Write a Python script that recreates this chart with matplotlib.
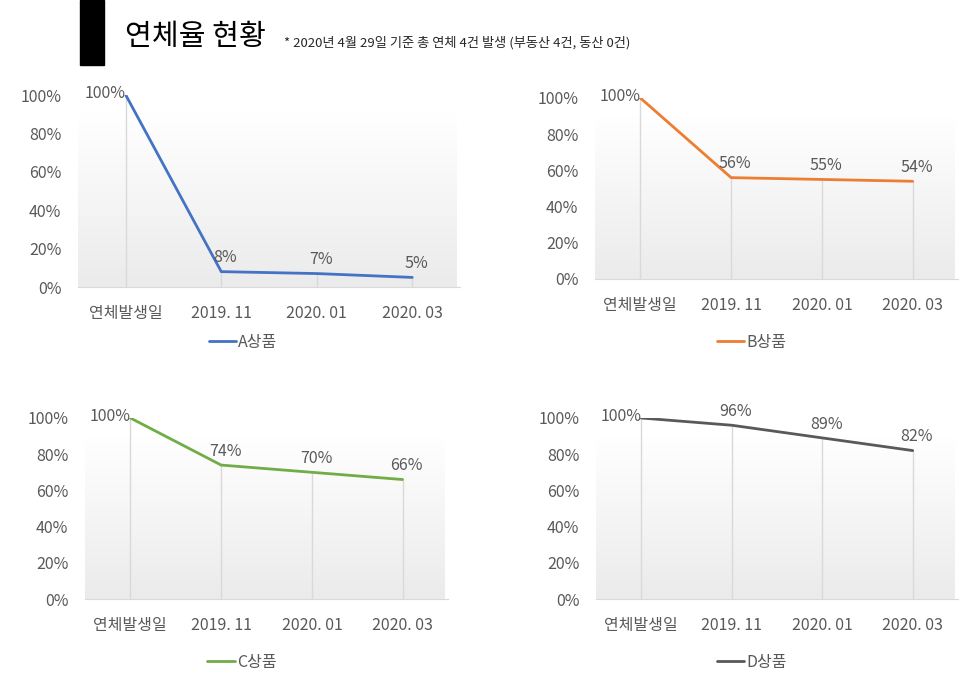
import numpy as np
import matplotlib
matplotlib.use('Agg')
import matplotlib.pyplot as plt
from matplotlib.colors import LinearSegmentedColormap
from matplotlib.patches import Rectangle

plt.rcParams['font.family'] = ['Noto Sans CJK KR', 'DejaVu Sans']

# --- 데이터 ---
categories = ['연체발생일', '2019. 11', '2020. 01', '2020. 03']
series_names = ['A상품', 'B상품', 'C상품', 'D상품']
a_values = [1.00, 0.08, 0.07, 0.05]
b_values = [1.00, 0.56, 0.55, 0.54]
c_values = [1.00, 0.74, 0.70, 0.66]
d_values = [1.00, 0.96, 0.89, 0.82]
y_ticks = [0, 0.2, 0.4, 0.6, 0.8, 1.0]

title_text = '연체율 현황'
subtitle_text = '* 2020년 4월 29일 기준 총 연체 4건 발생 (부동산 4건, 동산 0건)'

colors = ['#4472c4', '#ed7d31', '#70ad47', '#595959']
text_color = '#595959'

W, H = 960, 687
fig = plt.figure(figsize=(W / 100, H / 100), dpi=100)


def px_rect(left, top, right, bottom):
    return [left / W, 1 - bottom / H, (right - left) / W, (bottom - top) / H]


# 플롯 영역 (픽셀 좌표) 과 범례 위치
panels = [
    (a_values, px_rect(78, 95, 460, 287), (243, 342)),
    (b_values, px_rect(595, 98, 958, 279), (752, 342)),
    (c_values, px_rect(85, 418, 448, 599), (242, 662)),
    (d_values, px_rect(596, 418, 958, 599), (752, 662)),
]

bg_cmap = LinearSegmentedColormap.from_list(
    'bg', [(0, '#ebebeb'), (0.9, '#ffffff'), (1, '#ffffff')])
grad = np.linspace(0, 1, 256).reshape(-1, 1)

fs = 11.5

for i, (values, rect, leg_pos) in enumerate(panels):
    ax = fig.add_axes(rect)
    x = np.arange(len(categories))

    # 배경 그라데이션
    ax.imshow(grad, extent=[0, 0.99, 0, 1], transform=ax.transAxes, origin='lower',
              aspect='auto', cmap=bg_cmap, zorder=0, interpolation='bilinear')

    # 하강선
    ax.vlines(x, 0, values, color='#d9d9d9', lw=1, zorder=1)
    ax.plot(x, values, color=colors[i], lw=2.0, label=series_names[i],
            solid_capstyle='round', zorder=3)

    # 데이터 레이블
    for j, v in enumerate(values):
        if j == 0:
            ax.annotate(f'{v:.0%}', (x[j], v), xytext=(0, 1), textcoords='offset points',
                        ha='right', va='center', fontsize=fs, color=text_color,
                        annotation_clip=False)
        else:
            ax.annotate(f'{v:.0%}', (x[j], v), xytext=(3, 10), textcoords='offset points',
                        ha='center', va='center', fontsize=fs, color=text_color,
                        annotation_clip=False)

    ax.set_xlim(-0.5, len(categories) - 0.5)
    ax.set_ylim(0, 1)
    ax.set_xticks(x)
    ax.set_xticklabels(categories)
    ax.set_yticks(y_ticks)
    ax.set_yticklabels([f'{t:.0%}' for t in y_ticks])
    ax.tick_params(axis='both', length=0, labelsize=fs, colors=text_color)
    ax.tick_params(axis='y', pad=12)
    ax.tick_params(axis='x', pad=13)
    for side in ['top', 'right', 'left']:
        ax.spines[side].set_visible(False)
    ax.spines['bottom'].set_color('#d9d9d9')
    ax.spines['bottom'].set_zorder(2)

    leg = ax.legend(loc='center', bbox_to_anchor=(leg_pos[0] / W, 1 - leg_pos[1] / H),
                    bbox_transform=fig.transFigure, frameon=False, fontsize=fs,
                    handlelength=1.7, handletextpad=0.15)
    for t in leg.get_texts():
        t.set_color(text_color)

# 제목 영역
fig.patches.append(Rectangle((80 / W, 1 - 65 / H), 24 / W, 65 / H,
                             transform=fig.transFigure, color='black'))
fig.text(125 / W, 1 - 37 / H, title_text, fontsize=21, color='black', va='center', ha='left')
fig.text(284 / W, 1 - 43 / H, subtitle_text, fontsize=9.5, color='#262626', va='center', ha='left')

plt.savefig('out.png', dpi=100)
plt.close(fig)
